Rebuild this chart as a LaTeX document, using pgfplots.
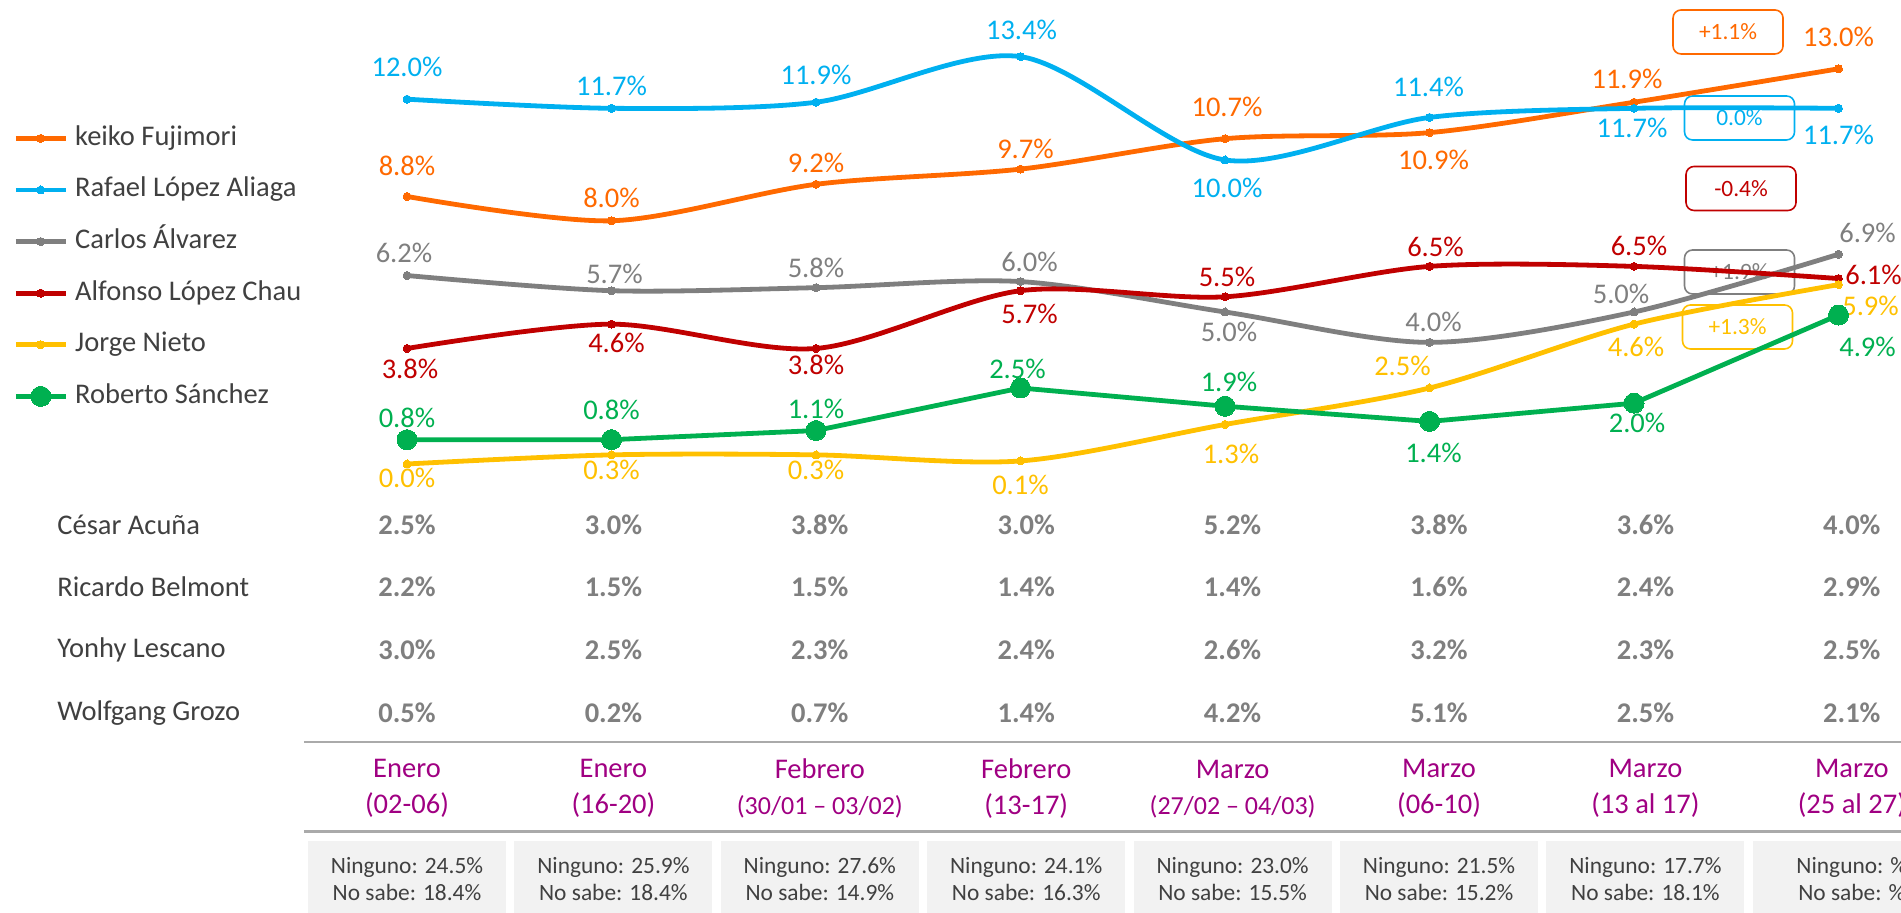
\documentclass[border=0pt]{standalone}
\usepackage{pgfplots}
\pgfplotsset{compat=1.18}
\usepackage{pgfplotstable}
\usepackage{fontspec}
\setmainfont{Carlito}
\definecolor{cKeiko}{RGB}{255,105,0}
\definecolor{cRafael}{RGB}{0,176,240}
\definecolor{cCarlos}{RGB}{127,127,127}
\definecolor{cAlfonso}{RGB}{192,0,0}
\definecolor{cJorge}{RGB}{255,192,0}
\definecolor{cRoberto}{RGB}{0,176,80}
\definecolor{cText}{RGB}{64,64,64}
\definecolor{cVal}{RGB}{127,127,127}
\definecolor{cMonth}{RGB}{160,0,130}
\definecolor{cBox}{RGB}{242,242,242}
\definecolor{cRule}{RGB}{170,170,170}
\newcommand{\fs}{\fontsize{14.25}{18}\selectfont}
\newcommand{\fsm}{\fontsize{11.7}{13.85}\selectfont}
\tikzset{
  ann/.style={draw=#1, text=#1, line width=0.8pt, rounded corners=4pt, minimum width=55pt, minimum height=22pt, inner sep=0pt, font=\fsm},
  pan/.style={fill=cBox, minimum width=99pt, minimum height=38.3pt, inner sep=0pt, align=center, font=\fsm, text=cText},
  nm/.style={anchor=west, font=\fs, text=cText, inner sep=0pt},
  mo/.style={align=center, font=\fs, text=cMonth, inner sep=0pt},
}

% x = survey index, y = percent, dx/dy = label offset in px
\pgfplotstableread{
x y dx dy
0 8.8 0 31
1 8.0 0 23
2 9.2 0 21
3 9.7 5 20
4 10.7 2 32
5 10.9 4 -27
6 11.9 -7 23
7 13.0 0 32
}\tKeiko
\pgfplotstableread{
x y dx dy
0 12.0 0 32
1 11.7 0 22
2 11.9 0 27
3 13.4 1 27
4 10.0 2 -28
5 11.4 -1 31
6 11.7 -2 -20
7 11.7 0 -27
}\tRafael
\pgfplotstableread{
x y dx dy
0 6.2 -3 23
1 5.7 3 17
2 5.8 0 20
3 6.0 9 20
4 5.0 4 -20
5 4.0 4 20
6 5.0 -13 18
7 6.9 29 21
}\tCarlos
\pgfplotstableread{
x y dx dy
0 3.8 3 -20
1 4.6 5 -19
2 3.8 0 -16
3 5.7 9 -23
4 5.5 2 20
5 6.5 6 19
6 6.5 5 20
7 6.1 35 4
}\tAlfonso
\pgfplotstableread{
x y dx dy
0 0.0 0 -14
1 0.3 0 -15
2 0.3 0 -15
3 0.1 0 -24
4 1.3 6 -29
5 2.5 -27 22
6 4.6 2 -23
7 5.9 32 -21
}\tJorge
\pgfplotstableread{
x y dx dy
0 0.8 0 22
1 0.8 0 30
2 1.1 0 22
3 2.5 -3 19
4 1.9 4 24
5 1.4 4 -31
6 2.0 3 -20
7 4.9 29 -32
}\tRoberto
\pgfplotstableread{
x acuna belmont lescano grozo
0      2.5 2.2 3.0 0.5
1.0093 3.0 1.5 2.5 0.2
2.0186 3.8 1.5 2.3 0.7
3.0279 3.0 1.4 2.4 1.4
4.0372 5.2 1.4 2.6 4.2
5.0465 3.8 1.6 3.2 5.1
6.0558 3.6 2.4 2.3 2.5
7.0651 4.0 2.9 2.5 2.1
}\tOthers

\begin{document}
\begin{tikzpicture}
\begin{axis}[
  width=950.5pt, height=456.5pt, scale only axis,
  xmin=-1.99022, xmax=7.30562, ymin=-14.7697, ymax=15.2632,
  hide axis, clip=false, set layers,
  /pgf/number format/assume math mode=true,
  lbl/.style={
    nodes near coords={\pgfmathprintnumber[fixed,fixed zerofill,precision=1]{\pgfplotspointmeta}\%},
    point meta=\thisrow{y},
    visualization depends on={\thisrow{dx} \as \ldx},
    visualization depends on={\thisrow{dy} \as \ldy},
    nodes near coords align=center,
    every node near coord/.append style={font=\fs, text=#1, anchor=center, inner sep=0pt,
      xshift={(\ldx)*0.5pt}, yshift={(\ldy)*0.5pt}},
  },
  vals/.style={
    forget plot, draw=none, mark=none,
    nodes near coords={\textbf{\pgfmathprintnumber[fixed,fixed zerofill,precision=1]{\pgfplotspointmeta}\%}},
    nodes near coords align=center,
    every node near coord/.append style={font=\fs, text=cVal, anchor=center, inner sep=0pt},
  },
  ser/.style={color=#1, line width=2.4pt, mark=*, mark size=2pt, mark options={solid, line width=0pt}},
  legend style={at={(0.00684,0.8631)}, anchor=north west, draw=none, fill=none, inner sep=0pt,
    row sep=12.8pt, font=\fs, text=cText,
    nodes={inner sep=0pt, text height=10pt, text depth=3pt},
    /tikz/every odd column/.append style={column sep=3.5pt}},
  legend cell align=left,
  legend image code/.code={\draw[mark repeat=2,mark phase=2,#1] plot coordinates {(0pt,0pt) (12.5pt,0pt) (25pt,0pt)};},
]
% annotation boxes and grey panels (behind the lines)
\begin{pgfonlayer}{axis background}
\node[ann=cKeiko] at (axis cs:6.4597,14.211) {+1.1\%};
\node[ann=cRafael] at (axis cs:6.5159,11.382) {0.0\%};
\node[ann=cAlfonso] at (axis cs:6.5232,9.063) {-0.4\%};
\node[ann=cCarlos] at (axis cs:6.5159,6.316) {+1.9\%};
\node[ann=cJorge] at (axis cs:6.5061,4.507) {+1.3\%};
\node[pan] at (axis cs:0,-13.651) {Ninguno: 24.5\%\\No sabe: 18.4\%};
\node[pan] at (axis cs:1.0093,-13.651) {Ninguno: 25.9\%\\No sabe: 18.4\%};
\node[pan] at (axis cs:2.0186,-13.651) {Ninguno: 27.6\%\\No sabe: 14.9\%};
\node[pan] at (axis cs:3.0279,-13.651) {Ninguno: 24.1\%\\No sabe: 16.3\%};
\node[pan] at (axis cs:4.0372,-13.651) {Ninguno: 23.0\%\\No sabe: 15.5\%};
\node[pan] at (axis cs:5.0465,-13.651) {Ninguno: 21.5\%\\No sabe: 15.2\%};
\node[pan] at (axis cs:6.0558,-13.651) {Ninguno: 17.7\%\\No sabe: 18.1\%};
\node[pan] at (axis cs:7.0651,-13.651) {Ninguno: \%\\No sabe: \%};
\end{pgfonlayer}

\addplot[ser=cKeiko, smooth, tension=0.5, lbl=cKeiko] table[x=x,y=y] {\tKeiko};
\addlegendentry{keiko Fujimori}
\addplot[ser=cRafael, smooth, tension=0.5, lbl=cRafael] table[x=x,y=y] {\tRafael};
\addlegendentry{Rafael López Aliaga}
\addplot[ser=cCarlos, smooth, tension=0.5, lbl=cCarlos] table[x=x,y=y] {\tCarlos};
\addlegendentry{Carlos Álvarez}
\addplot[ser=cAlfonso, smooth, tension=0.5, lbl=cAlfonso] table[x=x,y=y] {\tAlfonso};
\addlegendentry{Alfonso López Chau}
\addplot[ser=cJorge, smooth, tension=0.5, lbl=cJorge] table[x=x,y=y] {\tJorge};
\addlegendentry{Jorge Nieto}
\addplot[ser=cRoberto, mark size=5pt, lbl=cRoberto] table[x=x,y=y] {\tRoberto};
\addlegendentry{Roberto Sánchez}

% other candidates (table rows)
\addplot[vals, point meta=\thisrow{acuna}] table[x=x, y expr=-2.007] {\tOthers};
\addplot[vals, point meta=\thisrow{belmont}] table[x=x, y expr=-4.046] {\tOthers};
\addplot[vals, point meta=\thisrow{lescano}] table[x=x, y expr=-6.118] {\tOthers};
\addplot[vals, point meta=\thisrow{grozo}] table[x=x, y expr=-8.191] {\tOthers};

\node[nm] at (axis cs:-1.7115,-2.007) {César Acuña};
\node[nm] at (axis cs:-1.7115,-4.046) {Ricardo Belmont};
\node[nm] at (axis cs:-1.7115,-6.118) {Yonhy Lescano};
\node[nm] at (axis cs:-1.7115,-8.191) {Wolfgang Grozo};

\draw[cRule, line width=1.2pt] (axis cs:-0.5037,-9.145) -- (axis cs:7.4,-9.145);
\draw[cRule, line width=1.2pt] (axis cs:-0.5037,-12.095) -- (axis cs:7.4,-12.095);

\node[mo] at (axis cs:0,-10.681) {Enero\\(02-06)};
\node[mo] at (axis cs:1.0093,-10.681) {Enero\\(16-20)};
\node[mo] at (axis cs:2.0186,-10.681) {Febrero\\{\fontsize{13}{18}\selectfont(30/01 – 03/02)}};
\node[mo] at (axis cs:3.0279,-10.681) {Febrero\\(13-17)};
\node[mo] at (axis cs:4.0372,-10.681) {Marzo\\{\fontsize{13}{18}\selectfont(27/02 – 04/03)}};
\node[mo] at (axis cs:5.0465,-10.681) {Marzo\\(06-10)};
\node[mo] at (axis cs:6.0558,-10.681) {Marzo\\(13 al 17)};
\node[mo] at (axis cs:7.0651,-10.681) {Marzo\\(25 al 27)};
\end{axis}
\pgfresetboundingbox
\path[use as bounding box] (current axis.south west) rectangle (current axis.north east);
\end{tikzpicture}
\end{document}
